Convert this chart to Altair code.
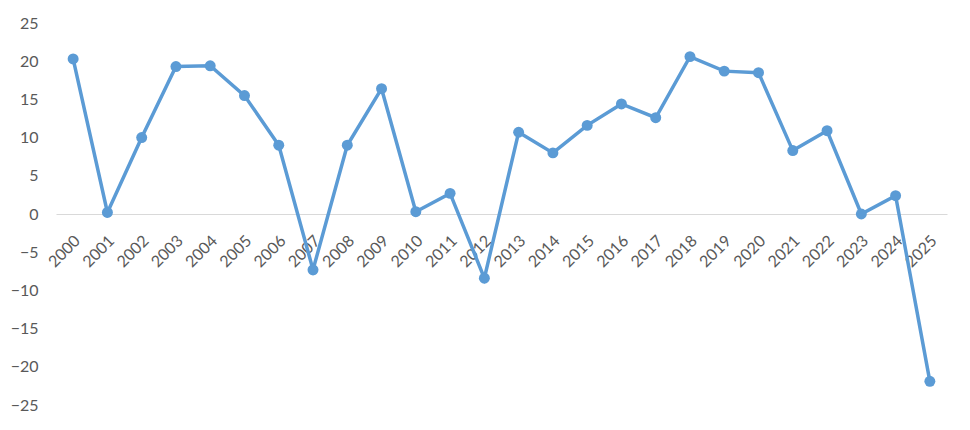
import altair as alt
import pandas as pd

years = [str(y) for y in range(2000, 2026)]
values = [20.3, 0.2, 10.0, 19.3, 19.4, 15.5, 9.0, -7.3, 9.0, 16.4,
          0.3, 2.7, -8.4, 10.7, 8.0, 11.6, 14.4, 12.6, 20.6, 18.7,
          18.5, 8.3, 10.9, 0.0, 2.4, -21.9]
y_ticks = list(range(-25, 30, 5))

df = pd.DataFrame({"year": years, "value": values})

H = 382
base = alt.Chart(df).encode(
    x=alt.X("year:N", sort=years, title=None,
            scale=alt.Scale(padding=0.5),
            axis=alt.Axis(labelAngle=-45, offset=-H / 2, ticks=False,
                          domainColor="#d9d9d9", domainWidth=1,
                          labelFont="Lato", labelFontSize=16, labelColor="#595959",
                          labelAlign="right", labelBaseline="middle", labelPadding=24,
                          labelOffset=4, grid=False)),
    y=alt.Y("value:Q", title=None,
            scale=alt.Scale(domain=[-25, 25], nice=False, zero=False),
            axis=alt.Axis(values=y_ticks, grid=False, ticks=False, domain=False,
                          labelFont="Lato", labelFontSize=16, labelColor="#595959",
                          labelPadding=18)),
)

line = base.mark_line(color="#5b9bd5", strokeWidth=3.5)
pts = base.mark_circle(color="#5b9bd5", size=120, opacity=1)

chart = (line + pts).properties(
    width=891, height=H,
    autosize=alt.AutoSizeParams(type="none"),
    padding={"left": 48, "top": 15, "right": 15, "bottom": 17},
    background="white",
).configure_view(stroke=None)

chart.save("out.html", embed_options={"renderer": "svg", "actions": False})
